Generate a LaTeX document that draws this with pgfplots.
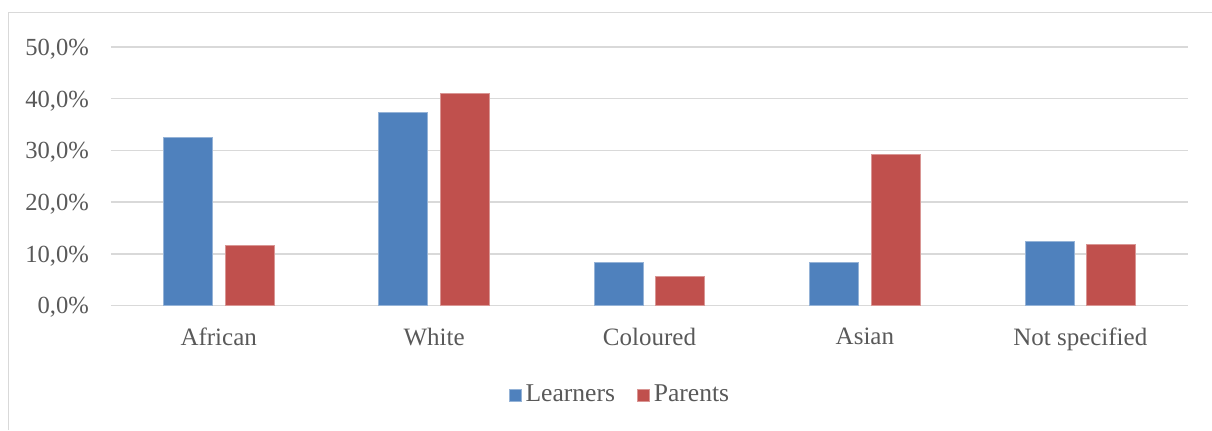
\documentclass[border=0pt]{standalone}
\usepackage{fontspec}
\setmainfont{Liberation Serif}
\usepackage{pgfplots}
\pgfplotsset{compat=1.18}
\definecolor{learn}{HTML}{4F81BD}
\definecolor{par}{HTML}{C0504D}
\definecolor{gridc}{HTML}{D9D9D9}
\definecolor{txt}{HTML}{595959}
\begin{document}
\begin{tikzpicture}[x=0.5pt,y=0.5pt]
\useasboundingbox (0,0) rectangle (1212,430);
\draw[gridc,line width=0.75pt] (8.5,0) -- (8.5,417.3) -- (1212,417.3);
\begin{axis}[
  at={(55.5pt,62.15pt)}, anchor=south west,
  scale only axis, width=538.5pt, height=129.35pt,
  ybar=6.3pt, bar width=24.5pt,
  xmin=-0.5, xmax=4.5, ymin=0, ymax=50,
  xtick={0,1,2,3,4},
  xticklabels={African,White,Coloured,Asian,Not specified},
  ytick={0,10,20,30,40,50},
  yticklabels={{0,0\%},{10,0\%},{20,0\%},{30,0\%},{40,0\%},{50,0\%}},
  axis line style={draw=none},
  major tick length=0pt,
  ymajorgrids, grid style={gridc,line width=0.75pt},
  every tick label/.append style={txt},
  yticklabel style={font=\fontsize{12.3}{13}\selectfont, xshift=-7.5pt, yshift=-1pt},
  xticklabel style={font=\fontsize{12.5}{14}\selectfont, yshift=-7.5pt},
  legend style={at={(0.4735,-0.345)}, anchor=center, draw=none, fill=none,
    legend columns=2, font=\fontsize{12.8}{14}\selectfont, text=txt,
    /tikz/every even column/.append style={column sep=9pt}},
  legend image code/.code={\fill[#1] (0pt,-3pt) rectangle (6pt,3pt);},
  clip=false,
]
\addplot[fill=learn, draw=learn!60!white, line width=0.4pt] coordinates {(0,32.6) (1,37.3) (2,8.4) (3,8.4) (4,12.45)};
\addplot[fill=par, draw=par!60!white, line width=0.4pt] coordinates {(0,11.7) (1,41.0) (2,5.7) (3,29.2) (4,11.8)};
\legend{Learners,Parents}
\end{axis}
\end{tikzpicture}
\end{document}
